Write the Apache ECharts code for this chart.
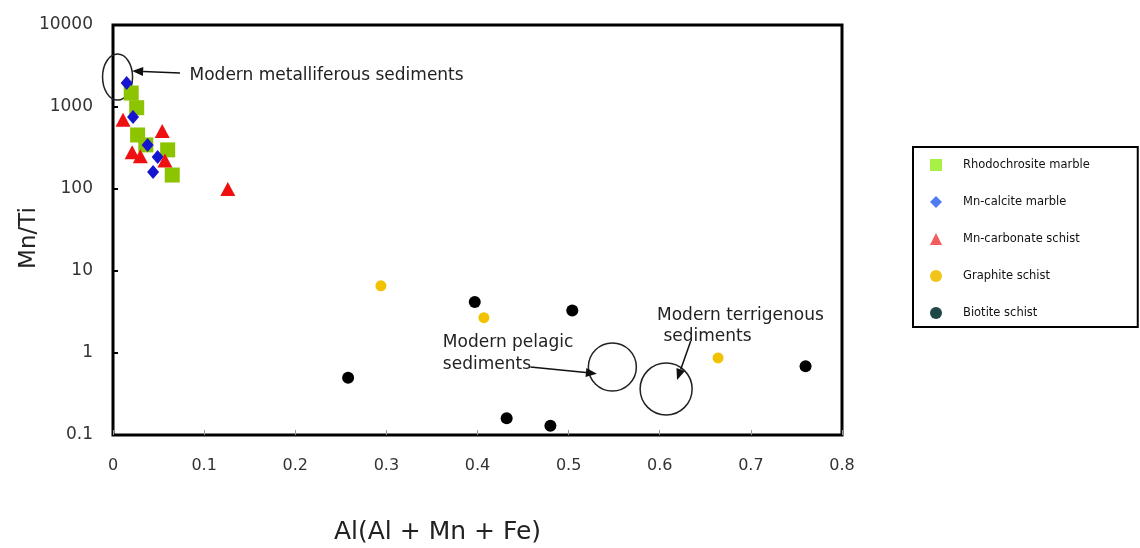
<!DOCTYPE html>
<html>
<head>
<meta charset="utf-8">
<script src="https://cdn.jsdelivr.net/npm/echarts@6/dist/echarts.min.js"></script>
<style>
  html, body { margin: 0; padding: 0; background: #fff; }
  #chart { width: 1140px; height: 548px; }
</style>
</head>
<body>
<div id="chart"></div>
<script>
// Al/(Al+Mn+Fe) against Mn/Ti for each rock group
const rhodochrositeMarble = [[0.020, 1480], [0.026, 980], [0.027, 456], [0.036, 345], [0.060, 300], [0.065, 148]];
const mnCalciteMarble = [[0.015, 1960], [0.022, 755], [0.038, 344], [0.049, 245], [0.044, 161]];
const mnCarbonateSchist = [[0.011, 700], [0.054, 510], [0.021, 280], [0.030, 250], [0.057, 222], [0.126, 100]];
const graphiteSchist = [[0.294, 6.6], [0.407, 2.7], [0.664, 0.87]];
const biotiteSchist = [[0.258, 0.50], [0.397, 4.2], [0.504, 3.3], [0.432, 0.16], [0.480, 0.13], [0.760, 0.69]];

const seriesNames = ['Rhodochrosite marble', 'Mn-calcite marble', 'Mn-carbonate schist', 'Graphite schist', 'Biotite schist'];
const xTicks = [0, 0.1, 0.2, 0.3, 0.4, 0.5, 0.6, 0.7, 0.8];
const yTicks = [0.1, 1, 10, 100, 1000, 10000];

const chart = echarts.init(document.getElementById('chart'));
const FONT = 'DejaVu Sans';

const markStyles = [
  { data: rhodochrositeMarble, symbol: 'rect', size: 15, color: '#8cc400', legendColor: '#a8f046' },
  { data: mnCalciteMarble, symbol: 'diamond', size: [12, 14], color: '#1515d0', legendColor: '#4f7cf5' },
  { data: mnCarbonateSchist, symbol: 'triangle', size: [15, 14], color: '#ee1010', legendColor: '#f25c5c' },
  { data: graphiteSchist, symbol: 'circle', size: 11, color: '#f2c200', legendColor: '#f0c419' },
  { data: biotiteSchist, symbol: 'circle', size: 12, color: '#000000', legendColor: '#1e4848' }
];

chart.setOption({
  animation: false,
  backgroundColor: '#ffffff',
  grid: {
    left: 113, top: 25, right: 298, bottom: 113,
    outerBoundsMode: 'none', containLabel: false,
    show: true, borderColor: '#000', borderWidth: 3, backgroundColor: 'transparent'
  },
  xAxis: {
    type: 'value', min: xTicks[0], max: xTicks[xTicks.length - 1], interval: 0.1,
    name: 'Al(Al + Mn + Fe)', nameLocation: 'middle', nameGap: 85, nameMoveOverlap: false,
    nameTextStyle: { fontFamily: FONT, fontSize: 25, color: '#222', padding: [0, 80, 0, 0] },
    axisLine: { show: false },
    axisTick: { show: true, inside: true, length: 5, lineStyle: { color: '#999' } },
    axisLabel: { margin: 23, fontFamily: FONT, fontSize: 16, color: '#333',
      formatter: v => String(+v.toFixed(1)) },
    splitLine: { show: false }
  },
  yAxis: {
    type: 'log', logBase: 10, min: yTicks[0], max: yTicks[yTicks.length - 1],
    name: 'Mn/Ti', nameLocation: 'middle', nameGap: 72, nameRotate: 90, nameMoveOverlap: false,
    nameTextStyle: { fontFamily: FONT, fontSize: 23, color: '#222', padding: [0, 16, 0, 0] },
    axisLine: { show: false },
    axisTick: { show: true, inside: true, length: 5, lineStyle: { color: '#000', width: 2 } },
    axisLabel: { margin: 20, fontFamily: FONT, fontSize: 17, color: '#333',
      formatter: v => String(+(+v).toPrecision(6)) },
    splitLine: { show: false }
  },
  legend: {
    orient: 'vertical', left: 913, top: 147,
    padding: [12, 48, 8, 17],
    itemWidth: 12, itemHeight: 12, itemGap: 25,
    borderColor: '#000', borderWidth: 2,
    textStyle: { fontFamily: FONT, fontSize: 11.5, color: '#111', padding: [0, 0, 0, 16] },
    data: seriesNames.map((n, i) => ({ name: n, itemStyle: { color: markStyles[i].legendColor } }))
  },
  series: markStyles.map((m, i) => ({
    name: seriesNames[i], type: 'scatter', data: m.data,
    symbol: m.symbol, symbolSize: m.size,
    itemStyle: { color: m.color, opacity: 1 },
    emphasis: { disabled: true }
  }))
});

// Annotation anchors, given in data coordinates
const toPx = p => chart.convertToPixel({ gridIndex: 0 }, p);
const textStyleBase = { fontFamily: FONT, fontSize: 17, fill: '#222', verticalAlign: 'middle', align: 'left' };

function arrow(from, to) {
  const a = toPx(from), b = toPx(to);
  const dx = b[0] - a[0], dy = b[1] - a[1];
  const len = Math.hypot(dx, dy), ux = dx / len, uy = dy / len;
  const hl = 11, hw = 4.5;
  const base = [b[0] - ux * hl, b[1] - uy * hl];
  return [
    { type: 'line', silent: true, shape: { x1: a[0], y1: a[1], x2: base[0], y2: base[1] },
      style: { stroke: '#111', lineWidth: 1.5 } },
    { type: 'polygon', silent: true, shape: { points: [b, [base[0] - uy * hw, base[1] + ux * hw], [base[0] + uy * hw, base[1] - ux * hw]] },
      style: { fill: '#111' } }
  ];
}
function label(text, at) {
  const p = toPx(at);
  return { type: 'text', silent: true, x: p[0], y: p[1], style: Object.assign({ text }, textStyleBase) };
}

const metal = toPx([0.005, 2320]);
const pelagic = toPx([0.548, 0.675]);
const terrig = toPx([0.607, 0.364]);

const elements = [
  { type: 'ellipse', silent: true, shape: { cx: metal[0], cy: metal[1], rx: 15, ry: 23 },
    style: { fill: 'none', stroke: '#222', lineWidth: 1.5 } },
  { type: 'circle', silent: true, shape: { cx: pelagic[0], cy: pelagic[1], r: 24 },
    style: { fill: 'none', stroke: '#222', lineWidth: 1.5 } },
  { type: 'circle', silent: true, shape: { cx: terrig[0], cy: terrig[1], r: 26 },
    style: { fill: 'none', stroke: '#222', lineWidth: 1.5 } },
  ...arrow([0.0735, 2600], [0.021, 2750]),
  ...arrow([0.458, 0.675], [0.531, 0.56]),
  ...arrow([0.634, 1.4], [0.619, 0.47]),
  label('Modern metalliferous sediments', [0.084, 2450]),
  label('Modern pelagic', [0.362, 1.33]),
  label('sediments', [0.362, 0.73]),
  label('Modern terrigenous', [0.597, 2.85]),
  label('sediments', [0.604, 1.57])
];
chart.setOption({ graphic: { elements } });
</script>
</body>
</html>
